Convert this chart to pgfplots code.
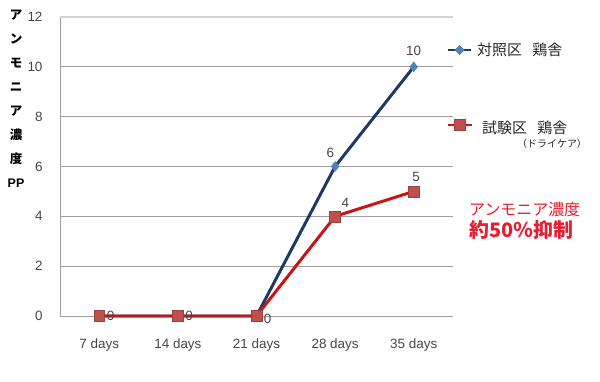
\documentclass[border=0pt]{standalone}
\usepackage{pgfplots}
\pgfplotsset{compat=1.18}
\usepackage{fontspec}
\setmainfont{Liberation Sans}
\newfontfamily\jp{Noto Sans CJK JP}
\definecolor{navy}{RGB}{31,56,100}
\definecolor{bmark}{RGB}{79,129,189}
\definecolor{rline}{RGB}{200,20,20}
\definecolor{rmark}{RGB}{192,80,77}
\definecolor{tgray}{RGB}{70,70,70}
\definecolor{pinkred}{RGB}{230,30,50}
\begin{document}
\begin{tikzpicture}[x=1bp,y=1bp]
\useasboundingbox (0,0) rectangle (600,381);
\begin{axis}[
  at={(60bp,65bp)}, anchor=south west,
  scale only axis, width=393bp, height=299bp,
  xmin=-0.5, xmax=4.5, ymin=0, ymax=12,
  xtick={0,1,2,3,4},
  xticklabels={7 days,14 days,21 days,28 days,35 days},
  ytick={0,2,...,12},
  ymajorgrids,
  grid style={draw=gray!75, line width=1pt},
  axis line style={draw=gray!75, line width=1pt},
  axis x line*=bottom, axis y line*=left,
  x axis line style={draw=none},
  major tick length=0pt,
  tick label style={font=\fontsize{13.5}{14}\selectfont, text=tgray},
  /pgf/number format/assume math mode=true,
  yticklabel style={xshift=-14bp},
  xticklabel style={yshift=-19bp},
  clip=false,
]
\addplot[navy, line width=3pt, mark=diamond*, mark size=5pt,
  mark options={fill=bmark, draw=bmark, line width=0.5pt}]
  coordinates {(0,0) (1,0) (2,0) (3,6) (4,10)};
\addplot[rline, line width=3pt, mark=square*, mark size=5.5pt,
  mark options={fill=rmark, draw=rmark!80!black, line width=0.6pt}]
  coordinates {(0,0) (1,0) (2,0) (3,4) (4,5)};
\draw[gray!35, line width=1.5pt] (axis cs:-0.5,12) -- (axis cs:4.5,12);
\begin{scope}[font=\fontsize{13.5}{14}\selectfont, text=tgray]
\node[anchor=west, inner sep=1pt] at (axis cs:0.08,0) {0};
\node[anchor=west, inner sep=1pt] at (axis cs:1.08,0) {0};
\node[anchor=west, inner sep=1pt] at (axis cs:2.08,-0.1) {0};
\node at (axis cs:2.94,6.55) {6};
\node at (axis cs:4.0,10.65) {10};
\node at (axis cs:3.13,4.55) {4};
\node at (axis cs:4.03,5.6) {5};
\end{scope}
\end{axis}
% y label stacked
\node[font=\jp\bfseries\fontsize{12.5}{24}\selectfont, align=center, anchor=north, inner sep=0pt]
  at (16,371) {ア\\ン\\モ\\ニ\\ア\\濃\\度\\{\fontspec{Liberation Sans}\bfseries PP}};
% legend
\draw[navy, line width=3pt] (448,331) -- (471,331);
\fill[bmark] (459.5,336) -- (464.5,331) -- (459.5,326) -- (454.5,331) -- cycle;
\node[anchor=west, font=\jp\fontsize{15}{16}\selectfont, text=black!85, inner sep=0pt] at (477,331) {対照区\hspace{0.7em}鶏舎};
\draw[rline, line width=3pt] (448,256) -- (472,256);
\filldraw[fill=rmark, draw=rmark!80!black] (454,250.5) rectangle (465,261.5);
\node[anchor=west, font=\jp\fontsize{15}{16}\selectfont, text=black!85, inner sep=0pt] at (482,253) {試験区\hspace{0.7em}鶏舎};
\node[anchor=west, font=\jp\fontsize{10}{11}\selectfont, text=black!85, inner sep=0pt] at (517,237) {（ドライケア）};
% annotation
\node[anchor=west, font=\jp\fontsize{16}{17}\selectfont, text=pinkred, inner sep=0pt] at (469,172) {アンモニア濃度};
\node[anchor=west, font=\jp\bfseries\fontsize{20}{21}\selectfont, text=pinkred, inner sep=0pt] at (469,151) {約50％抑制};
\end{tikzpicture}
\end{document}
